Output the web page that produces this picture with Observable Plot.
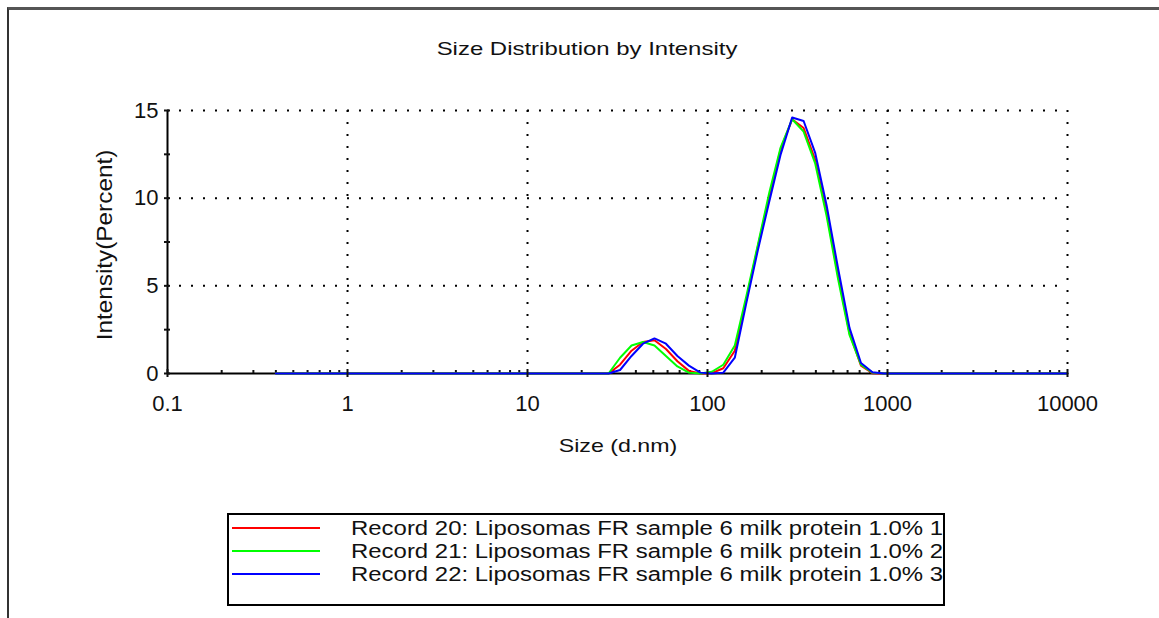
<!DOCTYPE html>
<html>
<head>
<meta charset="utf-8">
<script src="https://cdn.jsdelivr.net/npm/d3@7"></script>
<script src="https://cdn.jsdelivr.net/npm/@observablehq/plot@0.6"></script>
<style>
  body { margin: 0; background: #fff; }
  #root { position: relative; width: 1159px; height: 618px; overflow: hidden; background: #fff;
          font-family: "Liberation Sans", Arial, sans-serif; color: #000; }
  #frame { position: absolute; left: 7px; top: 7px; width: 1300px; height: 800px;
           border-top: 3px solid #555; border-left: 2px solid #333; }
  #chart { position: absolute; left: 0; top: 0; }
  .txt { position: absolute; white-space: nowrap; line-height: 1; color: #111; }
  #legend { position: absolute; left: 227px; top: 513px; width: 714px; height: 89px;
            border: 2px solid #000; overflow: hidden; background: #fff; }
  .lg-line { position: absolute; left: 3px; width: 88px; height: 2px; }
  .lg-text { position: absolute; left: 122px; white-space: nowrap; line-height: 1; color: #111;
             font-size: 19px; transform-origin: 0 50%; transform: translateY(-50%) scale(1.26, 1.02); }
</style>
</head>
<body>
<div id="root">
  <div id="frame"></div>
  <div id="chart"></div>
  <div class="txt" id="title"></div>
  <div class="txt" id="xlabel"></div>
  <div class="txt" id="ylabel"></div>
  <div id="legend"></div>
</div>
<script>
// Zetasizer size classes (d.nm)
const sizes = [
  0.4, 0.4632, 0.5365, 0.6213, 0.7195, 0.8332, 0.9649, 1.117, 1.294, 1.499,
  1.736, 2.010, 2.328, 2.696, 3.122, 3.615, 4.187, 4.849, 5.615, 6.503,
  7.531, 8.721, 10.10, 11.70, 13.54, 15.69, 18.17, 21.04, 24.36, 28.21,
  32.67, 37.84, 43.82, 50.75, 58.77, 68.06, 78.82, 91.28, 105.7, 122.4,
  141.8, 164.2, 190.1, 220.2, 255.0, 295.3, 342.0, 396.1, 458.7, 531.2,
  615.1, 712.4, 825.0, 955.4, 1106, 1281, 1484, 1718, 1990, 2305,
  2669, 3091, 3580, 4145, 4801, 5560, 6439, 7456, 8635, 10000
];
const record20 = [
  0, 0, 0, 0, 0, 0, 0, 0, 0, 0,
  0, 0, 0, 0, 0, 0, 0, 0, 0, 0,
  0, 0, 0, 0, 0, 0, 0, 0, 0, 0,
  0.5, 1.3, 1.8, 1.9, 1.4, 0.7, 0.15, 0, 0.02, 0.3,
  1.3, 4.2, 7.2, 10.1, 12.8, 14.5, 14.0, 12.2, 9.2, 5.6,
  2.3, 0.45, 0.02, 0, 0, 0, 0, 0, 0, 0,
  0, 0, 0, 0, 0, 0, 0, 0, 0, 0
];
const record21 = [
  0, 0, 0, 0, 0, 0, 0, 0, 0, 0,
  0, 0, 0, 0, 0, 0, 0, 0, 0, 0,
  0, 0, 0, 0, 0, 0, 0, 0, 0, 0,
  0.9, 1.6, 1.8, 1.6, 1.0, 0.4, 0.05, 0, 0.1, 0.5,
  1.6, 4.4, 7.3, 10.3, 12.9, 14.5, 13.8, 12.0, 9.0, 5.4,
  2.2, 0.5, 0.05, 0, 0, 0, 0, 0, 0, 0,
  0, 0, 0, 0, 0, 0, 0, 0, 0, 0
];
const record22 = [
  0, 0, 0, 0, 0, 0, 0, 0, 0, 0,
  0, 0, 0, 0, 0, 0, 0, 0, 0, 0,
  0, 0, 0, 0, 0, 0, 0, 0, 0, 0,
  0.2, 1.0, 1.7, 2.0, 1.7, 1.0, 0.45, 0.05, 0, 0.05,
  0.9, 4.0, 7.0, 9.8, 12.5, 14.6, 14.4, 12.6, 9.6, 6.0,
  2.6, 0.6, 0.07, 0, 0, 0, 0, 0, 0, 0,
  0, 0, 0, 0, 0, 0, 0, 0, 0, 0
];
const seriesNames = [
  "Record 20: Liposomas FR sample 6 milk protein 1.0% 1",
  "Record 21: Liposomas FR sample 6 milk protein 1.0% 2",
  "Record 22: Liposomas FR sample 6 milk protein 1.0% 3"
];
const seriesColors = ["#ff0000", "#00ff00", "#0000ff"];
const xTicks = [0.1, 1, 10, 100, 1000, 10000];
const xTickLabels = ["0.1", "1", "10", "100", "1000", "10000"];
const yTicks = [0, 5, 10, 15];
const yTickLabels = ["0", "5", "10", "15"];
const yMinorTicks = [2.5, 7.5, 12.5];
const titleText = "Size Distribution by Intensity";
const xLabelText = "Size (d.nm)";
const yLabelText = "Intensity(Percent)";

const seriesData = [record20, record21, record22];
const rows = [];
seriesData.forEach((arr, k) => arr.forEach((v, i) => rows.push({size: sizes[i], value: v, series: seriesNames[k]})));
const xMinorTicks = xTicks.slice(0, -1).flatMap(d => [2, 3, 4, 5, 6, 7, 8, 9].map(m => +(m * d).toPrecision(3)));

const chart = Plot.plot({
  width: 1159,
  height: 460,
  marginLeft: 167,
  marginRight: 92,
  marginTop: 110,
  marginBottom: 87,
  style: {fontFamily: '"Liberation Sans", Arial, sans-serif', fontSize: "22px", color: "#111", background: "transparent", overflow: "visible"},
  x: {type: "log", domain: [0.1, 10000], label: null},
  y: {domain: [0, 15], label: null},
  color: {domain: seriesNames, range: seriesColors},
  marks: [
    Plot.ruleY(yTicks.slice(1), {stroke: "#000", strokeWidth: 2, strokeDasharray: "2,10"}),
    Plot.ruleX(xTicks.slice(1), {stroke: "#000", strokeWidth: 2, strokeDasharray: "2,10"}),
    Plot.ruleY([0], {stroke: "#000", strokeWidth: 2}),
    Plot.ruleX([0.1], {stroke: "#000", strokeWidth: 2}),
    Plot.axisX({ticks: xMinorTicks, tickSize: 3, dy: -3, tickFormat: () => "", strokeWidth: 2, label: null}),
    Plot.line(rows, {x: "size", y: "value", z: "series", stroke: "series", strokeWidth: 2}),
    Plot.axisX({ticks: xTicks, tickSize: 8, dy: -4, tickFormat: () => "", strokeWidth: 2, label: null}),
    Plot.axisX({ticks: xTicks, tickSize: 0, tickPadding: 22, tickFormat: d => xTickLabels[xTicks.indexOf(d)], label: null}),
    Plot.axisY({ticks: [...yTicks, ...yMinorTicks], tickSize: 6, dx: 3, tickFormat: () => "", strokeWidth: 2, label: null}),
    Plot.axisY({ticks: yTicks, tickSize: 0, tickPadding: 9, tickFormat: d => yTickLabels[yTicks.indexOf(d)], label: null})
  ]
});
document.getElementById("chart").appendChild(chart);

function placeText(el, text, cx, cy, size, sx, sy, rot) {
  el.textContent = text;
  el.style.fontSize = size + "px";
  el.style.left = cx + "px";
  el.style.top = cy + "px";
  el.style.transformOrigin = "0 0";
  el.style.transform = `rotate(${rot}deg) scale(${sx}, ${sy}) translate(-50%, -50%)`;
}
placeText(document.getElementById("title"), titleText, 586.5, 48, 19, 1.26, 1.0, 0);
placeText(document.getElementById("xlabel"), xLabelText, 617.5, 445, 19, 1.22, 1.0, 0);
placeText(document.getElementById("ylabel"), yLabelText, 105, 245, 19, 1.28, 1.12, -90);

const legend = document.getElementById("legend");
const rowY = [13, 36, 59];
seriesNames.forEach((name, i) => {
  const ln = document.createElement("div");
  ln.className = "lg-line";
  ln.style.top = (rowY[i] - 1) + "px";
  ln.style.background = seriesColors[i];
  legend.appendChild(ln);
  const tx = document.createElement("div");
  tx.className = "lg-text";
  tx.style.top = rowY[i] + "px";
  tx.textContent = name;
  legend.appendChild(tx);
});
</script>
</body>
</html>
